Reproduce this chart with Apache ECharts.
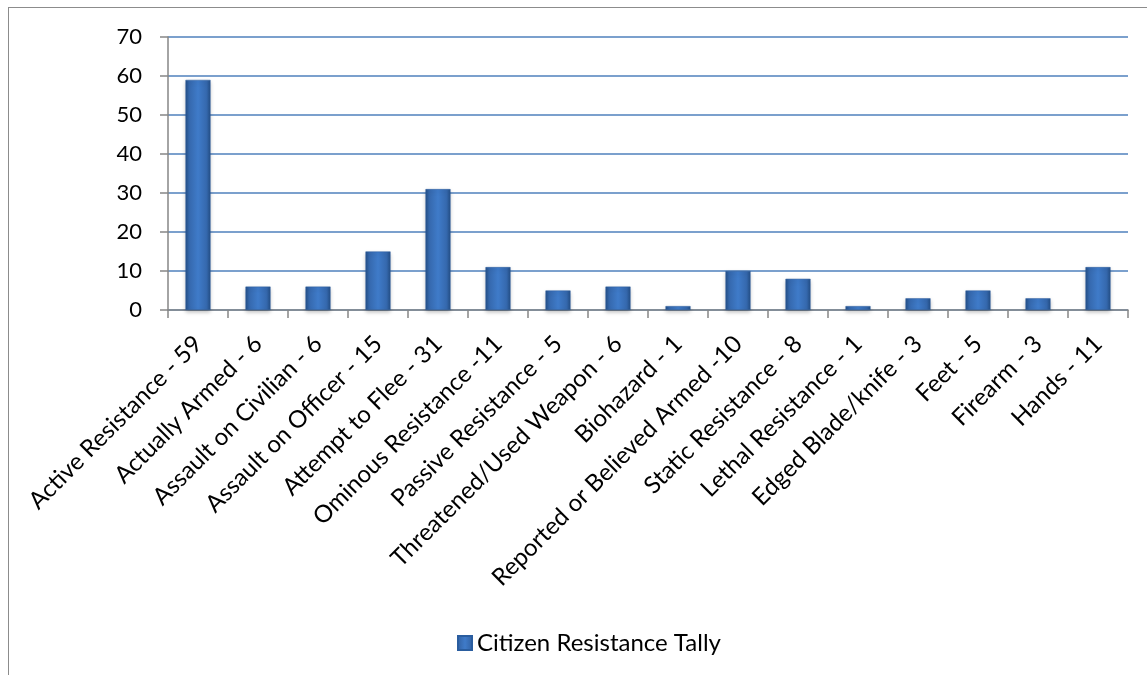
<!DOCTYPE html>
<html><head><meta charset="utf-8">
<script src="https://cdn.jsdelivr.net/npm/echarts@6/dist/echarts.min.js"></script>
<style>html,body{margin:0;padding:0;background:#fff;}#c{width:1147px;height:675px;}
#b{position:absolute;left:8px;top:7px;width:1160px;height:700px;border:1px solid #8c8c8c;box-sizing:border-box;pointer-events:none;}</style>
</head><body><div id="c"></div><div id="b"></div>
<script>
const categories = ["Active Resistance - 59","Actually Armed - 6","Assault on Civilian - 6","Assault on Officer - 15","Attempt to Flee - 31","Ominous Resistance -11","Passive Resistance - 5","Threatened/Used Weapon - 6","Biohazard - 1","Reported or Believed Armed -10","Static Resistance - 8","Lethal Resistance - 1","Edged Blade/knife - 3","Feet - 5","Firearm - 3","Hands - 11"];
const values = [59,6,6,15,31,11,5,6,1,10,8,1,3,5,3,11];
const seriesName = "Citizen Resistance Tally";
const yTicks = {min:0,max:70,interval:10};

const chart = echarts.init(document.getElementById('c'));
const grad = new echarts.graphic.LinearGradient(0,0,1,0,[
 {offset:0,color:'#234f86'},{offset:0.15,color:'#3568ad'},{offset:0.5,color:'#3f7bc9'},{offset:0.85,color:'#3568ad'},{offset:1,color:'#234f86'}]);
const FONT = 'Lato, Open Sans, sans-serif';
chart.setOption({
  animation:false,
  textStyle:{fontFamily:FONT},
  grid:{left:168,right:19,top:37,bottom:365},
  legend:{top:626,left:452,itemWidth:14,itemHeight:14,itemGap:7,
    textStyle:{fontSize:24,color:'#000',fontFamily:FONT},data:[{name:seriesName,icon:'rect'}]},
  xAxis:{type:'category',data:categories,
    axisLine:{lineStyle:{color:'#868686',width:1.5}},
    axisTick:{show:true,length:8,lineStyle:{color:'#868686',width:1.5}},
    axisLabel:{rotate:45,fontSize:24,color:'#000',interval:0,margin:30,fontFamily:FONT}},
  yAxis:{type:'value',min:yTicks.min,max:yTicks.max,interval:yTicks.interval,
    axisLine:{show:true,lineStyle:{color:'#868686',width:1.5}},
    axisTick:{show:true,length:8,lineStyle:{color:'#868686',width:1.5}},
    axisLabel:{fontSize:22,color:'#000',margin:26,fontFamily:FONT},
    splitLine:{lineStyle:{color:'#4f81bd',width:1.5}}},
  series:[{name:seriesName,type:'bar',data:values,barWidth:25,
    itemStyle:{color:grad,borderColor:'#2a5d9f',borderWidth:0.5,shadowColor:'rgba(0,0,0,0.25)',shadowBlur:4,shadowOffsetY:2}}]
});
</script></body></html>
